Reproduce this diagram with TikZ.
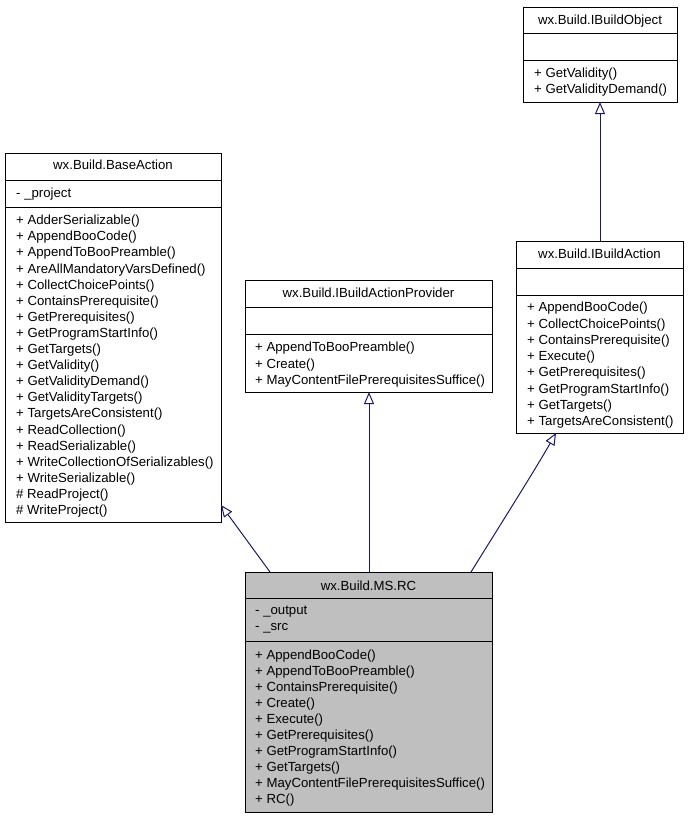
\documentclass[tikz,border=0pt]{standalone}
\usepackage{fontspec}
\setmainfont{Liberation Sans}
\usetikzlibrary{arrows.meta,calc}
\definecolor{edgeblue}{HTML}{191970}
\definecolor{rcgray}{HTML}{BFBFBF}
\begin{document}
\begin{tikzpicture}[x=1pt,y=1pt,
  font=\fontsize{13.2}{16}\selectfont,
  box/.style={draw=black, line width=1pt, anchor=north west, inner sep=0pt, outer sep=0pt},
  divider/.style={draw=black, line width=1pt},
  txt/.style={anchor=base west, inner sep=0pt},
  ttl/.style={anchor=base, inner sep=0pt},
  inh/.style={draw=edgeblue, line width=1pt, -{Triangle[open, length=12pt, width=10pt, line width=1pt]}}]
\useasboundingbox (0,0) rectangle (688,-819);

% ---------- wx.Build.BaseAction ----------
\node[box, minimum width=216, minimum height=369] (ba) at (5,-153) {};
\draw[divider] (5,-180) -- (221,-180);
\draw[divider] (5,-207) -- (221,-207);
\node[ttl] (baT) at (113,-169.7) {wx.Build.BaseAction};
\node[txt] (baA) at (16,-197.7) {- \_project};
\foreach \t [count=\i from 0] in {+ AdderSerializable(),+ AppendBooCode(),+ AppendToBooPreamble(),+ AreAllMandatoryVarsDefined(),+ CollectChoicePoints(),+ ContainsPrerequisite(),+ GetPrerequisites(),+ GetProgramStartInfo(),+ GetTargets(),+ GetValidity(),+ GetValidityDemand(),+ GetValidityTargets(),+ TargetsAreConsistent(),+ ReadCollection(),+ ReadSerializable(),+ WriteCollectionOfSerializables(),+ WriteSerializable(),\# ReadProject(),\# WriteProject()}
  \node[txt] (bam\i) at (16,{-(220+16.1*\i+4.7)}) {\t};

% ---------- wx.Build.IBuildActionProvider ----------
\node[box, minimum width=247, minimum height=112] (ibap) at (245,-280) {};
\draw[divider] (245,-307) -- (492,-307);
\draw[divider] (245,-334) -- (492,-334);
\node[ttl] (ibapT) at (368.5,-297.7) {wx.Build.IBuildActionProvider};
\foreach \t [count=\i from 0] in {+ AppendToBooPreamble(),+ Create(),+ MayContentFilePrerequisitesSuffice()}
  \node[txt] (ibapm\i) at (255,{-(347+16.5*\i+4.7)}) {\t};

% ---------- wx.Build.IBuildObject ----------
\node[box, minimum width=154, minimum height=95] (ibo) at (523,-7) {};
\draw[divider] (523,-33) -- (677,-33);
\draw[divider] (523,-60) -- (677,-60);
\node[ttl] (iboT) at (600,-24.7) {wx.Build.IBuildObject};
\foreach \t [count=\i from 0] in {+ GetValidity(),+ GetValidityDemand()}
  \node[txt] (ibom\i) at (534,{-(72.5+16.5*\i+4.7)}) {\t};

% ---------- wx.Build.IBuildAction ----------
\node[box, minimum width=167, minimum height=192] (iba) at (516,-241) {};
\draw[divider] (516,-268) -- (683,-268);
\draw[divider] (516,-295) -- (683,-295);
\node[ttl] (ibaT) at (599.5,-258.7) {wx.Build.IBuildAction};
\foreach \t [count=\i from 0] in {+ AppendBooCode(),+ CollectChoicePoints(),+ ContainsPrerequisite(),+ Execute(),+ GetPrerequisites(),+ GetProgramStartInfo(),+ GetTargets(),+ TargetsAreConsistent()}
  \node[txt] (ibam\i) at (527,{-(307+16.3*\i+4.7)}) {\t};

% ---------- wx.Build.MS.RC ----------
\node[box, fill=rcgray, minimum width=247, minimum height=240] (rc) at (245,-572) {};
\draw[divider] (245,-598) -- (492,-598);
\draw[divider] (245,-641) -- (492,-641);
\node[ttl] (rcT) at (368.5,-590.7) {wx.Build.MS.RC};
\node[txt] (rcA0) at (255,-614.7) {- \_output};
\node[txt] (rcA1) at (255,-630.7) {- \_src};
\foreach \t [count=\i from 0] in {+ AppendBooCode(),+ AppendToBooPreamble(),+ ContainsPrerequisite(),+ Create(),+ Execute(),+ GetPrerequisites(),+ GetProgramStartInfo(),+ GetTargets(),+ MayContentFilePrerequisitesSuffice(),+ RC()}
  \node[txt] (rcm\i) at (255,{-(655+16*\i+4.7)}) {\t};

% ---------- inheritance connectors ----------
\draw[inh] ($(rc.north west)+(25,0)$) -- ($(ba.north east)+(0,-352)$);
\draw[inh] ($(rc.north west)+(124,0)$) -- ($(ibap.south west)+(124,0)$);
\draw[inh] ($(rc.north west)+(226,0)$) .. controls (497,-530) and (535,-470) .. ($(iba.south west)+(40,0)$);
\draw[inh] ($(iba.north west)+(84,0)$) -- ($(ibo.south west)+(77,0)$);
\end{tikzpicture}
\end{document}
